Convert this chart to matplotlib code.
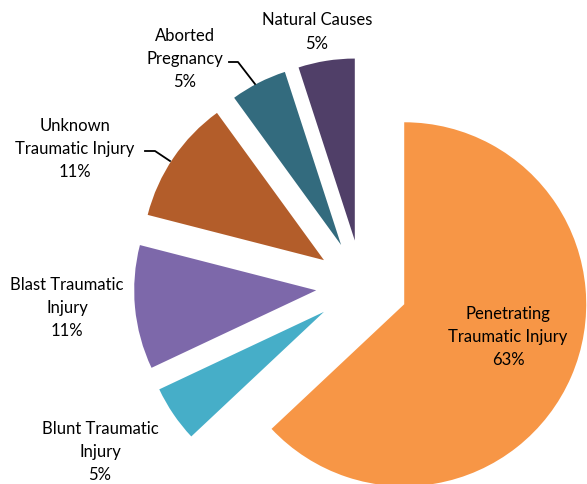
import matplotlib.pyplot as plt

plt.rcParams['font.family'] = ['Lato', 'DejaVu Sans']

categories = ["Penetrating\nTraumatic Injury", "Blunt Traumatic\nInjury", "Blast Traumatic\nInjury",
              "Unknown\nTraumatic Injury", "Aborted\nPregnancy", "Natural Causes"]
values = [63, 5, 11, 11, 5, 5]
colors = ["#F79646", "#46AEC8", "#7D68AA", "#B35D2A", "#336B7E", "#503F68"]

# label centres (pixels, y from top) and leader lines
label_pos = [(508, 337), (100, 452), (67, 308), (75, 149), (185, 59), (317, 32)]
leaders = {3: [(145, 152), (155, 152), (170, 162)],
           4: [(229, 63), (238, 63), (255, 85)]}

W, H = 587, 485
fig = plt.figure(figsize=(W / 100, H / 100), dpi=100)
ax = fig.add_axes([0, 0, 1, 1])

# pie centre and radius in pixels (explode is in the same units)
ax.pie(values, colors=colors, startangle=90, counterclock=False,
       explode=[46] * len(values), center=(362, H - 287), radius=182,
       wedgeprops=dict(linewidth=0))

total = sum(values)
for i, (lab, v) in enumerate(zip(categories, values)):
    x, y = label_pos[i]
    ax.text(x, H - y, f"{lab}\n{round(100 * v / total)}%", ha='center', va='center',
            fontsize=12, color='black', linespacing=1.55)

for pts in leaders.values():
    ax.plot([p[0] for p in pts], [H - p[1] for p in pts], color='black', lw=1.3)

ax.set_xlim(0, W)
ax.set_ylim(0, H)
ax.set_aspect('equal')
ax.axis('off')

plt.savefig("out.png", dpi=100)
